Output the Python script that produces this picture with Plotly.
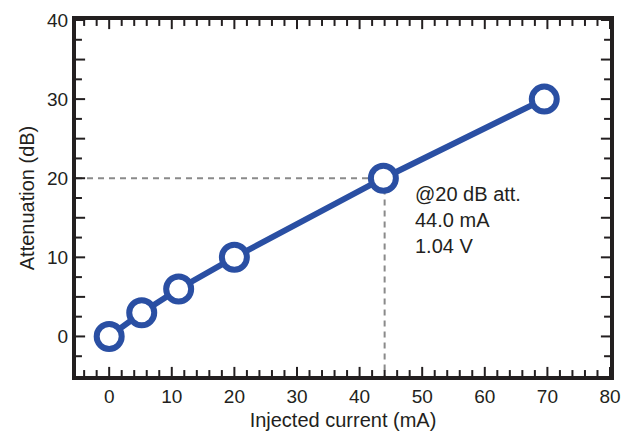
import plotly.graph_objects as go

# ---- data ----
current_mA = [0, 5.2, 11.1, 20, 43.8, 69.5]
attenuation_dB = [0, 3, 6, 10, 20, 30]

op_current = 44.0
op_att = 20
x_range = [-5.3, 80.0]
y_range = [-5, 40]

x_tickvals = [0, 10, 20, 30, 40, 50, 60, 70, 80]
x_ticktext = ["0", "10", "20", "30", "40", "50", "60", "70", "80"]
x_minor_ticks = [-4, -2, 2, 4, 6, 8, 12, 14, 16, 18, 22, 24, 26, 28, 32, 34, 36, 38,
                 42, 44, 46, 48, 52, 54, 56, 58, 62, 64, 66, 68, 72, 74, 76, 78]
y_tickvals = [0, 10, 20, 30, 40]
y_ticktext = ["0", "10", "20", "30", "40"]
y_major_ticks = [0, 5, 10, 15, 20, 25, 30, 35, 40]
y_minor_ticks = [-2.5, 2.5, 7.5, 12.5, 17.5, 22.5, 27.5, 32.5, 37.5]

blue = "#2a4fa3"
frame = "#231f20"
font_family = "Liberation Sans, Arial, sans-serif"

fig = go.Figure()

# dashed guide lines
fig.add_trace(go.Scatter(
    x=[x_range[0], op_current, op_current], y=[op_att, op_att, y_range[0]],
    mode="lines", line=dict(color="#8a8a8a", width=2, dash="6px,5px"),
    hoverinfo="skip", showlegend=False))

fig.add_trace(go.Scatter(
    x=current_mA, y=attenuation_dB, mode="lines+markers",
    line=dict(color=blue, width=6),
    marker=dict(size=25, color="white", line=dict(color=blue, width=6)),
    showlegend=False))


# inward tick marks on all four sides (half of each marker is clipped by the plot area)
def tick_trace(xs, ys, symbol, size):
    return go.Scatter(
        x=xs, y=ys, mode="markers", cliponaxis=True, hoverinfo="skip", showlegend=False,
        marker=dict(symbol=symbol, size=size, color=frame, line=dict(color=frame, width=2)))


for edge in y_range:
    fig.add_trace(tick_trace(x_tickvals, [edge] * len(x_tickvals), "line-ns", 13))
    fig.add_trace(tick_trace(x_minor_ticks, [edge] * len(x_minor_ticks), "line-ns", 8.5))
for edge in x_range:
    fig.add_trace(tick_trace([edge] * len(y_major_ticks), y_major_ticks, "line-ew", 13))
    fig.add_trace(tick_trace([edge] * len(y_minor_ticks), y_minor_ticks, "line-ew", 8.5))

fig.add_annotation(
    x=48.5, y=19.6, xref="x", yref="y", xanchor="left", yanchor="top",
    text="@20 dB att.<br>44.0 mA<br>1.04 V", showarrow=False, align="left",
    font=dict(size=20, color="#231f20", family=font_family))

axis_common = dict(
    showline=True, linewidth=4, linecolor=frame, mirror=True,
    ticks="", showgrid=False, zeroline=False, automargin=False,
    tickfont=dict(size=19, color="#231f20", family=font_family),
)

fig.update_xaxes(
    range=x_range, tickvals=x_tickvals, ticktext=x_ticktext,
    title=dict(text="Injected current (mA)", font=dict(size=20, color="#231f20", family=font_family), standoff=8),
    **axis_common)
fig.update_yaxes(
    range=y_range, tickvals=y_tickvals, ticktext=y_ticktext,
    title=dict(text="Attenuation (dB)", font=dict(size=20, color="#231f20", family=font_family), standoff=8),
    **axis_common)

fig.update_layout(
    width=631, height=433,
    margin=dict(l=76, r=21, t=20, b=57),
    plot_bgcolor="white", paper_bgcolor="white",
    font=dict(family=font_family),
)

fig.write_html("out.html")
